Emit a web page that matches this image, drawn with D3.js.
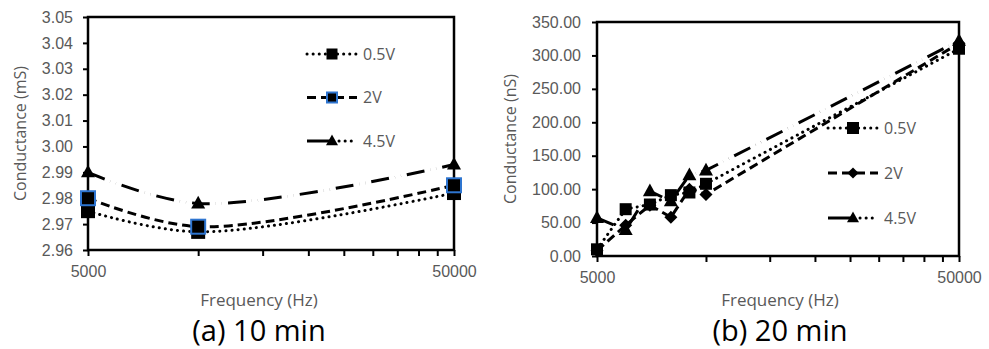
<!DOCTYPE html>
<html>
<head>
<meta charset="utf-8">
<script src="https://cdn.jsdelivr.net/npm/d3@7"></script>
<style>
  body { margin: 0; background: #fff; }
  svg { font-family: "Open Sans", "Liberation Sans", sans-serif; }
</style>
</head>
<body>
<svg width="989" height="349"></svg>
<script>
// chart (a) 10 min
const freqA = [5000, 10000, 50000];
const a05 = [2.975, 2.967, 2.982];
const a2 = [2.980, 2.969, 2.985];
const a45 = [2.990, 2.978, 2.993];
const yTicksA = [2.96, 2.97, 2.98, 2.99, 3.00, 3.01, 3.02, 3.03, 3.04, 3.05];

// chart (b) 20 min
const freqB = [5000, 6000, 7000, 8000, 9000, 10000, 50000];
const b05 = [10, 70, 77, 91, 95, 108, 310];
const b2 = [8, 46, 76, 58, 100, 92, 318];
const b45 = [57, 39, 97, 82, 121, 128, 322];
const yTicksB = [0, 50, 100, 150, 200, 250, 300, 350];

const xTicks = [5000, 10000, 15000, 20000, 25000, 30000, 35000, 40000, 45000, 50000];
const labels = ['0.5V', '2V', '4.5V'];

const svg = d3.select('svg');
const gray = '#595959';
const dashes = ['0.1,6', '9,5', '18,6,0.1,6,0.1,6'];

function marker(g, type, x, y, size, blue) {
  if (type === 'square') {
    g.append('rect').attr('x', x - size / 2).attr('y', y - size / 2)
      .attr('width', size).attr('height', size)
      .attr('fill', 'black')
      .attr('stroke', blue ? '#2e75d0' : 'none').attr('stroke-width', 2);
  } else if (type === 'diamond') {
    const s = d3.symbol().type(d3.symbolDiamond2).size(size * size * 0.55);
    g.append('path').attr('d', s()).attr('transform', `translate(${x},${y})`).attr('fill', 'black');
  } else {
    const h = size * 0.9;
    g.append('path')
      .attr('d', `M${x},${y - h * 0.6}L${x + size / 2},${y + h * 0.4}L${x - size / 2},${y + h * 0.4}Z`)
      .attr('fill', 'black');
  }
}

function drawChart(o) {
  const x = d3.scaleLog().domain([5000, 50000]).range([o.left, o.right]);
  const y = d3.scaleLinear().domain(o.yDomain).range([o.bottom, o.top]);
  const g = svg.append('g');

  // y axis
  const yAxis = g.append('g').attr('transform', `translate(${o.left},0)`)
    .call(d3.axisLeft(y).tickValues(o.yTicks).tickFormat(d3.format(o.fmt)).tickSize(5).tickPadding(o.yPad));
  yAxis.select('.domain').remove();
  yAxis.selectAll('line').attr('stroke', 'black').attr('stroke-width', 2);
  yAxis.selectAll('text').attr('fill', gray).style('font-size', '16px');

  // x axis
  const xAxis = g.append('g').attr('transform', `translate(0,${o.bottom})`)
    .call(d3.axisBottom(x).tickValues(xTicks)
      .tickFormat(d => (d === 5000 || d === 50000) ? d : '').tickSize(6).tickPadding(10));
  xAxis.select('.domain').remove();
  xAxis.selectAll('line').attr('stroke', 'black').attr('stroke-width', 2);
  xAxis.selectAll('text').attr('fill', gray).style('font-size', '16px');

  // plot border
  g.append('rect').attr('x', o.left).attr('y', o.top)
    .attr('width', o.right - o.left).attr('height', o.bottom - o.top)
    .attr('fill', 'none').attr('stroke', 'black').attr('stroke-width', 2.5);

  // series
  o.series.forEach((vals, i) => {
    const pts = o.freq.map((f, j) => [x(f), y(vals[j])]);
    g.append('path').attr('d', d3.line().curve(o.curve)(pts))
      .attr('fill', 'none').attr('stroke', 'black').attr('stroke-width', 3)
      .attr('stroke-linecap', i === 0 ? 'round' : 'butt')
      .attr('stroke-dasharray', dashes[i]);
  });
  o.series.forEach((vals, i) => {
    o.freq.forEach((f, j) => marker(g, o.markers[i], x(f), y(vals[j]), o.msize[i], o.blue && i === 1));
  });

  // legend
  labels.forEach((lab, i) => {
    const ly = o.legY + i * o.legStep;
    const lx = o.legX;
    if (i === 2) {
      g.append('line').attr('x1', lx).attr('x2', lx + 26).attr('y1', ly).attr('y2', ly)
        .attr('stroke', 'black').attr('stroke-width', 3);
      g.append('line').attr('x1', lx + 26).attr('x2', lx + 50).attr('y1', ly).attr('y2', ly)
        .attr('stroke', 'black').attr('stroke-width', 3).attr('stroke-linecap', 'round')
        .attr('stroke-dasharray', '0.1,6').attr('stroke-dashoffset', -6);
    } else {
      g.append('line').attr('x1', lx).attr('x2', lx + 50).attr('y1', ly).attr('y2', ly)
        .attr('stroke', 'black').attr('stroke-width', 3)
        .attr('stroke-linecap', i === 0 ? 'round' : 'butt')
        .attr('stroke-dasharray', dashes[i]);
    }
    marker(g, o.markers[i], lx + 25, ly, o.legSize[i], o.blue && i === 1);
    g.append('text').attr('x', lx + 56).attr('y', ly).attr('dy', '0.35em')
      .attr('fill', gray).style('font-size', '16px').text(lab);
  });

  // axis titles
  g.append('text').attr('transform', `translate(${o.yTitleX},${(o.top + o.bottom) / 2}) rotate(-90)`)
    .attr('text-anchor', 'middle').attr('fill', gray).style('font-size', '16px').text(o.yTitle);
  g.append('text').attr('x', o.titleX).attr('y', 306).attr('text-anchor', 'middle')
    .attr('fill', gray).style('font-size', '17px').text('Frequency (Hz)');
  g.append('text').attr('x', o.titleX).attr('y', 341).attr('text-anchor', 'middle')
    .attr('fill', 'black').style('font-size', '29px').text(o.caption);
}

drawChart({
  left: 88, right: 454, top: 17, bottom: 250,
  yDomain: [2.96, 3.05], yTicks: yTicksA, fmt: '.2f', yPad: 10,
  freq: freqA, series: [a05, a2, a45], curve: d3.curveCatmullRom,
  markers: ['square', 'square', 'triangle'], msize: [14, 14, 14], legSize: [11, 10, 12], blue: true,
  legX: 307, legY: 54, legStep: 43.5,
  yTitle: 'Conductance (mS)', yTitleX: 26, titleX: 259, caption: '(a) 10 min'
});

drawChart({
  left: 597, right: 959, top: 22, bottom: 256,
  yDomain: [0, 350], yTicks: yTicksB, fmt: '.2f', yPad: 11,
  freq: freqB, series: [b05, b2, b45], curve: d3.curveLinear,
  markers: ['square', 'diamond', 'triangle'], msize: [12, 14, 14], legSize: [12, 12, 12], blue: false,
  legX: 828, legY: 128, legStep: 45,
  yTitle: 'Conductance (nS)', yTitleX: 516, titleX: 780, caption: '(b) 20 min'
});
</script>
</body>
</html>
